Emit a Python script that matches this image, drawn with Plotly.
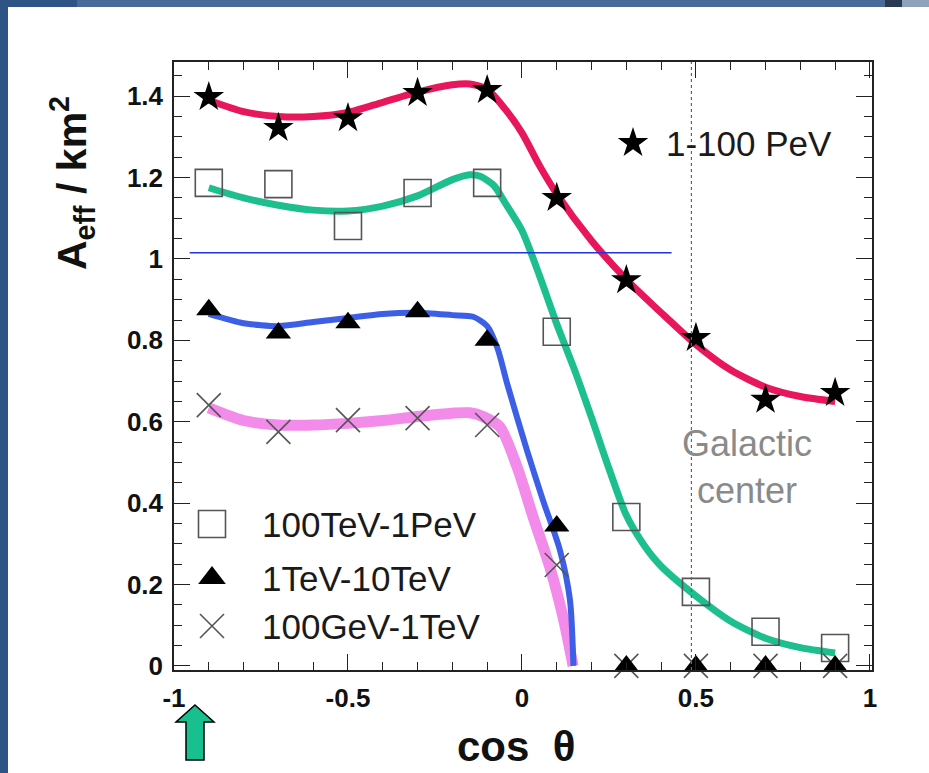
import plotly.graph_objects as go

# ---------------- data ----------------
cos_pts = [-0.9, -0.7, -0.5, -0.3, -0.1, 0.1, 0.3, 0.5, 0.7, 0.9]
star_vals = [1.398, 1.322, 1.346, 1.408, 1.415, 1.150, 0.948, 0.806, 0.654, 0.671]
square_vals = [1.187, 1.184, 1.081, 1.162, 1.187, 0.821, 0.366, 0.182, 0.084, 0.044]
tri_vals = [0.875, 0.818, 0.843, 0.870, 0.800, 0.344, 0.0, 0.0, 0.0, 0.0]
cross_vals = [0.641, 0.575, 0.604, 0.609, 0.592, 0.248, 0.0, 0.0, 0.0, 0.0]

red_x = [-0.9, -0.8, -0.7, -0.6, -0.5, -0.4, -0.3, -0.2, -0.15, -0.1, -0.05, 0.0, 0.05, 0.1, 0.2, 0.3, 0.4, 0.5, 0.6, 0.7, 0.8, 0.9]
red_y = [1.39, 1.362, 1.35, 1.35, 1.36, 1.385, 1.41, 1.428, 1.43, 1.417, 1.37, 1.31, 1.23, 1.16, 1.045, 0.95, 0.868, 0.79, 0.727, 0.685, 0.662, 0.65]

green_x = [-0.9, -0.8, -0.7, -0.6, -0.5, -0.4, -0.3, -0.2, -0.15, -0.12, -0.08, -0.05, 0.0, 0.05, 0.1, 0.15, 0.2, 0.25, 0.3, 0.35, 0.4, 0.5, 0.6, 0.7, 0.8, 0.9]
green_y = [1.175, 1.15, 1.132, 1.12, 1.118, 1.13, 1.155, 1.195, 1.207, 1.203, 1.18, 1.14, 1.07, 0.96, 0.84, 0.73, 0.61, 0.485, 0.37, 0.298, 0.245, 0.172, 0.11, 0.068, 0.045, 0.032]

blue_x = [-0.9, -0.8, -0.7, -0.6, -0.5, -0.4, -0.3, -0.2, -0.14, -0.1, -0.07, -0.043, 0.014, 0.06, 0.109, 0.138, 0.148]
blue_y = [0.865, 0.842, 0.835, 0.845, 0.855, 0.865, 0.868, 0.862, 0.858, 0.835, 0.78, 0.695, 0.531, 0.408, 0.285, 0.162, 0.0]

pink_x = [-0.9, -0.8, -0.7, -0.6, -0.5, -0.4, -0.3, -0.2, -0.15, -0.11, -0.063, -0.014, 0.032, 0.08, 0.118, 0.147]
pink_y = [0.634, 0.603, 0.592, 0.592, 0.596, 0.603, 0.613, 0.621, 0.622, 0.612, 0.587, 0.489, 0.366, 0.243, 0.12, 0.0]

ref_line_x = [-0.955, 0.43]
ref_line_y = [1.015, 1.015]
galactic_center_x = 0.487

x_ticks = [-1, -0.5, 0, 0.5, 1]
x_ticktext = ["-1", "-0.5", "0", "0.5", "1"]
y_ticks = [0, 0.2, 0.4, 0.6, 0.8, 1.0, 1.2, 1.4]
y_ticktext = ["0", "0.2", "0.4", "0.6", "0.8", "1", "1.2", "1.4"]

legend_names = ["100TeV-1PeV", "1TeV-10TeV", "100GeV-1TeV"]
star_name = "1-100 PeV"

# ---------------- layout geometry ----------------
W, H = 929, 773
L, R, T, B = 174, 872, 62, 670
XR = [-1.0, 1.006]
YR = [-0.01, 1.484]


def px2x(px):
    return XR[0] + (px - L) / (R - L) * (XR[1] - XR[0])


def py2y(py):
    return YR[0] + (B - py) / (B - T) * (YR[1] - YR[0])


def ppx(px):
    return (px - L) / (R - L)


def ppy(py):
    return (B - py) / (B - T)


fig = go.Figure()

# fitted curves
fig.add_trace(go.Scatter(x=pink_x, y=pink_y, mode="lines", line=dict(color="#f28be9", width=11, shape="spline", smoothing=0.7), showlegend=False, hoverinfo="skip"))
fig.add_trace(go.Scatter(x=blue_x, y=blue_y, mode="lines", line=dict(color="#3d5fe6", width=6, shape="spline", smoothing=0.7), showlegend=False, hoverinfo="skip"))
fig.add_trace(go.Scatter(x=green_x, y=green_y, mode="lines", line=dict(color="#1dbf8e", width=7, shape="spline", smoothing=0.7), showlegend=False, hoverinfo="skip"))
fig.add_trace(go.Scatter(x=red_x, y=red_y, mode="lines", line=dict(color="#e8175b", width=7, shape="spline", smoothing=0.7), showlegend=False, hoverinfo="skip"))

# reference line
fig.add_trace(go.Scatter(x=ref_line_x, y=ref_line_y, mode="lines", line=dict(color="#2233e0", width=1.5), showlegend=False, hoverinfo="skip"))

# data markers
fig.add_trace(go.Scatter(x=cos_pts, y=cross_vals, mode="markers", name=legend_names[2], cliponaxis=False,
                         marker=dict(symbol="x-thin", size=24, line=dict(color="#555555", width=1.6)), showlegend=False))
fig.add_trace(go.Scatter(x=cos_pts, y=square_vals, mode="markers", name=legend_names[0], cliponaxis=False,
                         marker=dict(symbol="square-open", size=27, color="#555555", line=dict(width=1.6)), showlegend=False))
fig.add_trace(go.Scatter(x=cos_pts, y=tri_vals, mode="markers", name=legend_names[1], cliponaxis=False,
                         marker=dict(symbol="triangle-up", size=22, color="black"), showlegend=False))
fig.add_trace(go.Scatter(x=cos_pts, y=star_vals, mode="markers", name=star_name, cliponaxis=False,
                         marker=dict(symbol="star", size=23, color="black", line=dict(width=0)), showlegend=False))

# manual legend glyphs
leg_x = px2x(212)
leg_ys = [py2y(524), py2y(578), py2y(626)]
fig.add_trace(go.Scatter(x=[leg_x], y=[leg_ys[0]], mode="markers", showlegend=False, hoverinfo="skip",
                         marker=dict(symbol="square-open", size=27, color="#555555", line=dict(width=1.6))))
fig.add_trace(go.Scatter(x=[leg_x], y=[leg_ys[1]], mode="markers", showlegend=False, hoverinfo="skip",
                         marker=dict(symbol="triangle-up", size=24, color="black")))
fig.add_trace(go.Scatter(x=[leg_x], y=[leg_ys[2]], mode="markers", showlegend=False, hoverinfo="skip",
                         marker=dict(symbol="x-thin", size=24, line=dict(color="#555555", width=1.6))))
fig.add_trace(go.Scatter(x=[px2x(633)], y=[py2y(143)], mode="markers", showlegend=False, hoverinfo="skip",
                         marker=dict(symbol="star", size=23, color="black")))

annotations = []
for name, yy in zip(legend_names, leg_ys):
    annotations.append(dict(x=px2x(260), y=yy, xref="x", yref="y", text=name, showarrow=False, xanchor="left",
                            yanchor="middle", font=dict(family="Liberation Sans", size=35, color="#1a1a1a")))
annotations.append(dict(x=px2x(664), y=py2y(143), xref="x", yref="y", text=star_name, showarrow=False, xanchor="left",
                        yanchor="middle", font=dict(family="Liberation Sans", size=35, color="#1a1a1a")))
annotations.append(dict(x=px2x(747), y=py2y(467), xref="x", yref="y", text="Galactic<br>center", showarrow=False,
                        xanchor="center", yanchor="middle", align="center",
                        font=dict(family="Liberation Sans", size=36, color="#8a8a8a")))
annotations.append(dict(x=ppx(72), y=ppy(183), xref="paper", yref="paper", text="<b>A<sub>eff</sub> / km<sup>2</sup></b>",
                        showarrow=False, textangle=-90, xanchor="center", yanchor="middle",
                        font=dict(family="Liberation Sans", size=41, color="#111111")))
annotations.append(dict(x=ppx(516), y=ppy(746), xref="paper", yref="paper", text="<b>cos\u00a0\u00a0θ</b>",
                        showarrow=False, xanchor="center", yanchor="middle",
                        font=dict(family="Liberation Sans", size=42, color="#111111")))

shapes = []
# white slide area over blue background
shapes.append(dict(type="rect", xref="paper", yref="paper", layer="below", x0=ppx(8), x1=ppx(W + 5), y0=ppy(H + 5), y1=ppy(7),
                   fillcolor="white", line=dict(width=0)))
# top band shading
shapes.append(dict(type="rect", xref="paper", yref="paper", layer="below", x0=ppx(77), x1=ppx(W + 5), y0=ppy(7), y1=ppy(-5),
                   fillcolor="#4a6b97", line=dict(width=0)))
shapes.append(dict(type="rect", xref="paper", yref="paper", layer="below", x0=ppx(885), x1=ppx(902), y0=ppy(7), y1=ppy(-5),
                   fillcolor="#2a3a52", line=dict(width=0)))
shapes.append(dict(type="rect", xref="paper", yref="paper", layer="below", x0=ppx(902), x1=ppx(W + 5), y0=ppy(7), y1=ppy(-5),
                   fillcolor="#8ea3bb", line=dict(width=0)))
# galactic centre dotted line
shapes.append(dict(type="line", xref="x", yref="paper", x0=galactic_center_x, x1=galactic_center_x, y0=0, y1=1,
                   line=dict(color="#666666", width=1.2, dash="dot")))
# green arrow
pts = [(195, 705), (214, 722), (204, 722), (204, 760), (186, 760), (186, 722), (176, 722)]
path = "M " + " L ".join(f"{ppx(a):.5f},{ppy(b):.5f}" for a, b in pts) + " Z"
shapes.append(dict(type="path", xref="paper", yref="paper", path=path, fillcolor="#17c08e", line=dict(color="black", width=1.5)))

tickfont = dict(family="Liberation Sans", size=26, color="#111111", weight="bold")

fig.update_layout(
    width=W, height=H,
    margin=dict(l=L, r=W - R, t=T, b=H - B, pad=0),
    paper_bgcolor="#2e5384",
    plot_bgcolor="white",
    showlegend=False,
    annotations=annotations,
    shapes=shapes,
    xaxis=dict(range=XR, tickvals=x_ticks, ticktext=x_ticktext, ticks="inside", ticklen=16, tickwidth=1.3,
               tickcolor="#222222", showline=True, linecolor="#222222", linewidth=1.5, mirror="ticks",
               showgrid=False, zeroline=False, tickfont=tickfont, ticklabelstandoff=4,
               minor=dict(dtick=0.1, tick0=0, ticks="inside", ticklen=8, tickwidth=1.1, tickcolor="#222222", showgrid=False)),
    yaxis=dict(range=YR, tickvals=y_ticks, ticktext=y_ticktext, ticks="inside", ticklen=16, tickwidth=1.3,
               tickcolor="#222222", showline=True, linecolor="#222222", linewidth=1.5, mirror="ticks",
               showgrid=False, zeroline=False, tickfont=tickfont, ticklabelstandoff=4,
               minor=dict(dtick=0.05, tick0=0, ticks="inside", ticklen=8, tickwidth=1.1, tickcolor="#222222", showgrid=False)),
)

fig.write_html("out.html")
